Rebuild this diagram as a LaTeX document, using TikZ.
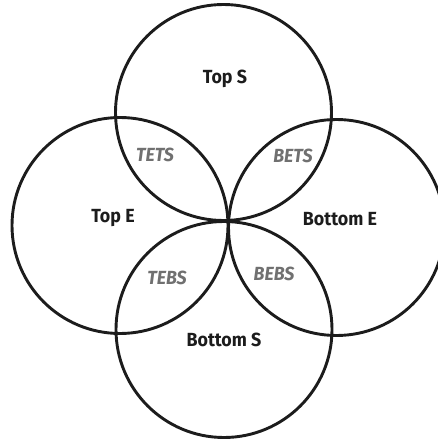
\documentclass[tikz,border=0pt]{standalone}
\usepackage{fontspec}
\setmainfont{Fira Sans}[FakeStretch=0.94]
\usepackage{tikz}
\usetikzlibrary{positioning}
\definecolor{inkline}{HTML}{1C1C1C}
\definecolor{overlapgrey}{HTML}{707070}
\tikzset{
  ring/.style={draw=inkline, circle, line width=2.9pt, minimum size=216pt,
    inner sep=0pt},
  setlabel/.style={font=\fontsize{19}{21}\selectfont\bfseries, text=inkline},
  overlaplabel/.style={font=\fontsize{19}{21}\selectfont\bfseries\itshape,
    text=overlapgrey}
}

\begin{document}
\begin{tikzpicture}[x=1pt, y=-1pt]
  \useasboundingbox (0,0) rectangle (438,439);

  % The four circles
  \node[ring] (topS) at (223.5,112.5) {};
  \node[ring] (topE) at (120,225.5) {};
  \node[ring] (botE) at (336.5,227.5) {};
  \node[ring] (botS) at (224,329.5) {};

  % Set names
  \node[setlabel] (lbl-topS) at (225,79) {Top S};
  \node[setlabel] (lbl-topE) at (113,218) {Top E};
  \node[setlabel] (lbl-botE) at (340,219) {Bottom E};
  \node[setlabel] (lbl-botS) at (224,340) {Bottom S};

  % Overlaps
  \node[overlaplabel] (lbl-tets) at (155,155) {TETS};
  \node[overlaplabel] (lbl-bets) at (293,156) {BETS};
  \node[overlaplabel] (lbl-tebs) at (167,278) {TEBS};
  \node[overlaplabel] (lbl-bebs) at (274,274) {BEBS};
\end{tikzpicture}
\end{document}
